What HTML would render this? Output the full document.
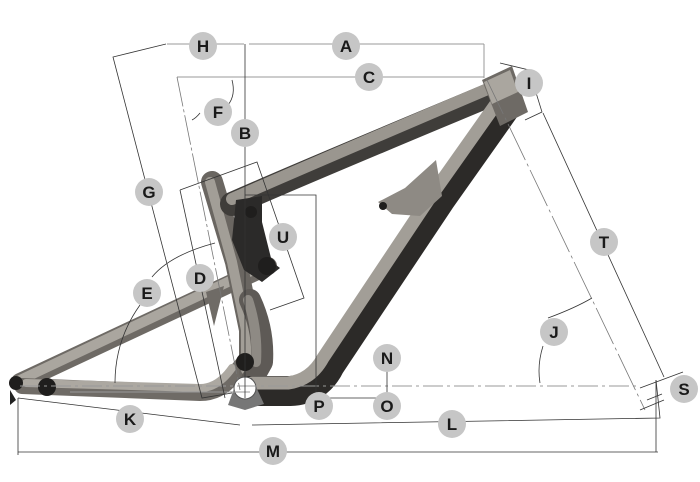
<!DOCTYPE html>
<html><head><meta charset="utf-8"><style>
html,body{margin:0;padding:0;background:#fff;width:700px;height:482px;overflow:hidden}
svg{display:block}
text{font-family:"Liberation Sans",sans-serif;font-weight:bold;font-size:17px;fill:#1a1a1a;text-anchor:middle}
</style></head><body>
<svg width="700" height="482" viewBox="0 0 700 482" xmlns="http://www.w3.org/2000/svg">
<g fill="none" stroke-linecap="round" stroke-linejoin="round">
<path d="M20 382 L268 266" stroke="#6e6a65" stroke-width="18"/>
<path d="M20 380 L266 264" stroke="#aaa69f" stroke-width="10"/>
<path d="M22 386 L200 393 Q222 393 236 372 L246 360" stroke="#6f6b66" stroke-width="16"/>
<path d="M26 383 L200 388 Q218 388 232 368" stroke="#aca8a1" stroke-width="8"/>
<path d="M212 182 L236 262 L250 330 L250 372" stroke="#6a6661" stroke-width="22"/>
<path d="M210 182 L232 262 L246 330 L246 370" stroke="#a29e97" stroke-width="10"/>
<path d="M250 300 Q264 330 262 362 L252 380" stroke="#5e5a56" stroke-width="22"/>
<path d="M248 300 Q258 330 256 362" stroke="#8e8a84" stroke-width="10"/>
<path d="M232 204 Q300 174 492 94" stroke="#3f3d3a" stroke-width="24"/>
<path d="M232 199 Q300 169 490 88" stroke="#9a968f" stroke-width="12"/>
<path d="M505 108 L440 200 L330 365 Q318 390 290 391 L250 391" stroke="#2c2a28" stroke-width="30"/>
<path d="M496 104 L431 196 L323 358 Q311 380 288 383 L252 383" stroke="#a29e97" stroke-width="13"/>
</g>
<polygon points="378,202 405,188 436,160 442,196 420,216 392,214" fill="#8e8a84"/>
<polygon points="482,80 512,66 528,112 500,126" fill="#6e6a65"/>
<polygon points="484,82 510,70 518,92 492,104" fill="#aaa69f"/>
<path d="M236 200 L262 196 L262 222 L272 262 L280 268 L262 282 L244 270 L232 240 Z" fill="#2b2a29"/>
<path d="M206 292 L224 286 L214 326 Z" fill="#6f6b66"/>
<g fill="#1f1e1d"><circle cx="267" cy="266" r="9"/><circle cx="245" cy="362" r="9"/><circle cx="47" cy="387" r="9"/><circle cx="16" cy="383" r="7"/><circle cx="383" cy="206" r="4"/><circle cx="251" cy="212" r="6"/></g>
<path d="M10 390 L16 400 L10 405 Z" fill="#222"/>
<polygon points="228,405 238,378 252,378 264,404 245,410" fill="#777"/>
<circle cx="245" cy="388" r="11" fill="#fff" stroke="#555" stroke-width="1"/>
<g stroke="#999" stroke-width="1" fill="none">
<path d="M167 44 L244 44 M249 44 L484 44 M484 44 L484 78 M177 77 L484 77"/>
<path d="M20 386 L640 386" stroke-dasharray="20 4 3 4"/>
<path d="M70 392 L250 392"/>
</g>
<g stroke="#333" stroke-width="0.8" fill="none">
<path d="M245 44 L245 398"/>
<path d="M166 44 L113 57 L202 398 L232 393"/>
<path d="M177 77 L240 390" stroke="#777" stroke-dasharray="30 3 3 3"/>
<path d="M180 190 L257 162 L304 298 L270 310"/>
<path d="M180 190 L225 398"/>
<path d="M486 78 L645 410" stroke="#777" stroke-dasharray="40 4 3 4"/>
<path d="M543 113 L664 377"/>
<path d="M500 63 L529 70 L542 112 L525 120"/>
<path d="M245 195 L316 195 L316 395"/>
<path d="M18 398 L18 455 M18 452 L658 452 M656 380 L656 452"/>
<path d="M18 398 L240 425 M252 425 L660 418 L656 380"/>
<path d="M387 370 L387 398 M386 398 L316 398"/>
<path d="M232 80 Q236 95 228 105 M200 113 Q196 118 192 120"/>
<path d="M215 243 Q170 255 152 277 M140 305 Q115 340 115 383"/>
<path d="M592 298 Q575 308 548 318 M543 346 Q537 365 540 383"/>
<path d="M640 388 L683 372 M640 410 L664 400 M647 400 L662 394"/>
</g>
<g fill="#c6c6c6">
<circle cx="203" cy="46" r="14"/><circle cx="346" cy="46" r="14"/><circle cx="369" cy="77" r="14"/>
<circle cx="529" cy="83" r="14"/><circle cx="218" cy="112" r="14"/><circle cx="245" cy="133" r="14"/>
<circle cx="149" cy="192" r="14"/><circle cx="283" cy="237" r="14"/><circle cx="604" cy="242" r="14"/>
<circle cx="200" cy="278" r="14"/><circle cx="147" cy="293" r="14"/><circle cx="554" cy="332" r="14"/>
<circle cx="387" cy="358" r="14"/><circle cx="684" cy="389" r="14"/><circle cx="130" cy="419" r="14"/>
<circle cx="319" cy="406" r="14"/><circle cx="387" cy="406" r="14"/><circle cx="452" cy="424" r="14"/>
<circle cx="273" cy="451" r="14"/>
</g>
<text x="203" y="52">H</text><text x="346" y="52">A</text><text x="369" y="83">C</text>
<text x="529" y="89">I</text><text x="218" y="118">F</text><text x="245" y="139">B</text>
<text x="149" y="198">G</text><text x="283" y="243">U</text><text x="604" y="248">T</text>
<text x="200" y="284">D</text><text x="147" y="299">E</text><text x="554" y="338">J</text>
<text x="387" y="364">N</text><text x="684" y="395">S</text><text x="130" y="425">K</text>
<text x="319" y="412">P</text><text x="387" y="412">O</text><text x="452" y="430">L</text>
<text x="273" y="457">M</text>
</svg>
</body></html>
